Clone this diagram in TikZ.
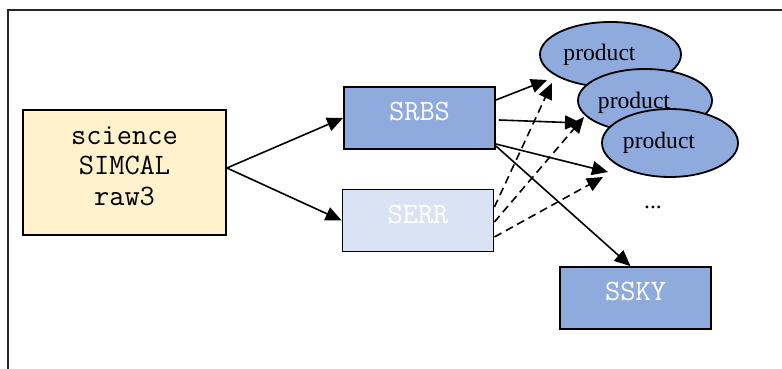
\documentclass[tikz,border=0pt]{standalone}
\usepackage{fontspec}
\setmainfont{Liberation Serif}
\usetikzlibrary{arrows.meta,shapes.geometric}
\definecolor{scifill}{HTML}{FFF2CC}
\definecolor{darkblue}{HTML}{8FAADC}
\definecolor{paleblue}{HTML}{DAE3F3}
\begin{document}
\begin{tikzpicture}[x=0.5pt,y=-0.5pt,
  line width=0.8pt,
  box node/.style={rectangle,draw,line width=0.9pt,fill=darkblue,text=white,
    font=\fontsize{14.8}{15.25}\selectfont\ttfamily,inner sep=0pt,
    minimum width=75.5pt,minimum height=31pt,text height=9pt,text depth=6.5pt},
  prod node/.style={ellipse,draw,fill=darkblue,line width=0.9pt,inner sep=0pt},
  prod text/.style={font=\fontsize{11.8}{14}\selectfont,xshift=-5.5pt},
  flow/.style={-{Triangle[length=8pt,width=7pt]}},
  errflow/.style={flow,dash pattern=on 4pt off 2.5pt}]

  \useasboundingbox (0,0) rectangle (782,369);
  \draw[line width=0.6pt,black!85] (8,369) -- (8,10) -- (782,10);

  \node[box node,fill=scifill,minimum width=101.5pt,minimum height=62.5pt,
    label={[font=\fontsize{14.8}{15.25}\selectfont\ttfamily,align=center,
      yshift=3.25pt]center:science\\SIMCAL\\raw3}] (raw) at (124.5,172.5) {};
  \node[box node] (srbs) at (419.5,118) {SRBS};
  \node[box node,fill=paleblue] (serr) at (418,220.5) {SERR};
  \node[box node] (ssky) at (635.5,298) {SSKY};

  \node[prod node,minimum width=70.5pt,minimum height=32.5pt,
    label={[prod text]center:product}] (p1) at (610.5,54.5) {};
  \node[prod node,minimum width=67pt,minimum height=31.5pt,
    label={[prod text,yshift=-1pt]center:product}] (p2) at (645,100.5) {};
  \node[prod node,minimum width=68pt,minimum height=34pt,
    label={[prod text]center:product}] (p3) at (670,143) {};
  \node[font=\fontsize{11.8}{14}\selectfont] (more) at (653,207) {...};

  \coordinate (a1) at (547,80);
  \coordinate (a2) at (581,123);
  \coordinate (a3) at (608,172);
  \coordinate (d1) at (552,83);
  \coordinate (d2) at (584,117);
  \coordinate (d3) at (603,177);

  \path[flow]
  ([yshift=2.25pt]raw.east) edge (srbs.west)
  ([yshift=2.25pt]raw.east) edge (serr.west)
  ([yshift=9pt]srbs.east) edge (a1)
  ([xshift=1.5pt,yshift=-1pt]srbs.east) edge (a2)
  ([yshift=-13pt]srbs.east) edge (a3)
  ([yshift=-14pt]srbs.east) edge ([xshift=-2.5pt]ssky.north);
  \path[errflow]
  ([yshift=6.75pt]serr.east) edge (d1)
  ([yshift=-0.75pt]serr.east) edge (d2)
  ([yshift=-8.25pt]serr.east) edge (d3);
\end{tikzpicture}
\end{document}
